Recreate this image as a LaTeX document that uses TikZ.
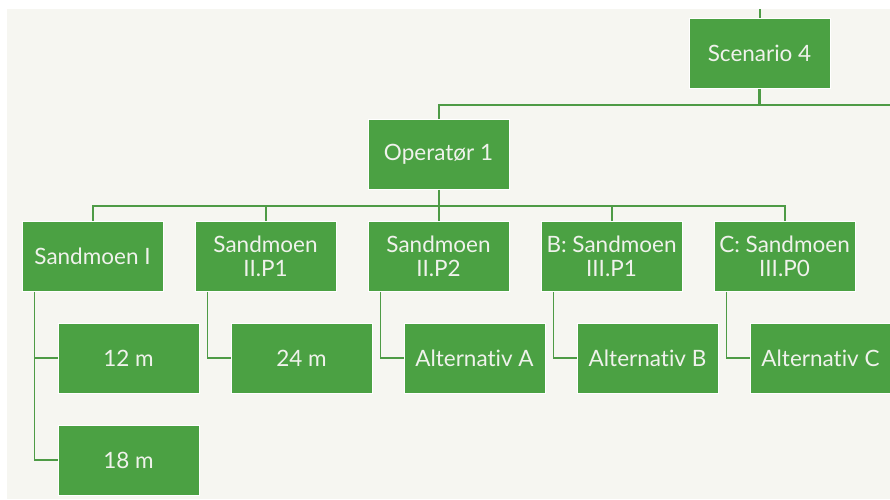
\documentclass[tikz,border=0pt]{standalone}
\usepackage{fontspec}
\setmainfont{Lato}[Ligatures={NoCommon}]
\usetikzlibrary{positioning}

\definecolor{boxgreen}{RGB}{75,161,67}
\definecolor{linegreen}{RGB}{78,155,70}
\definecolor{paper}{RGB}{246,246,241}
\definecolor{boxtext}{RGB}{240,242,236}

\begin{document}
\begin{tikzpicture}[x=1pt,y=-1pt,
  box/.style={fill=boxgreen,draw=white,line width=0.8pt,minimum width=141pt,minimum height=70pt,
    inner sep=2pt,align=center,text=boxtext,font=\fontsize{22.5}{24}\selectfont},
  link/.style={draw=linegreen,line width=2pt}]
% page and background
\fill[white] (0,0) rectangle (890,499);
\fill[paper] (7,9) rectangle (890,499);
\useasboundingbox (0,0) rectangle (890,499);

% top two levels
\node[box] (scen) at (759.5,53.5) {Scenario 4};
\node[box] (op) at (438.5,154.5) {Operatør 1};
\coordinate (top) at (759.5,9);
\coordinate (busA) at (759.5,104.5);
\coordinate (busAend) at (890,104.5);
\coordinate (busB) at (438.5,205.5);

% sites
\foreach \i/\x/\t in {1/92.5/{Sandmoen I},2/265.5/{Sandmoen\\II.P1},3/438.5/{Sandmoen\\II.P2},
    4/611.5/{B: Sandmoen\\III.P1},5/784.5/{C: Sandmoen\\III.P0}}
  \node[box] (s\i) at (\x,256.5) {\t};

% alternatives
\node[box] (t1) at (128.5,358) {12 m};
\node[box] (t2) at (128.5,460) {18 m};
\node[box] (t3) at (301.5,358) {24 m};
\node[box] (t4) at (474.5,358) {Alternativ A};
\node[box] (t5) at (647.5,358) {Alternativ B};
\node[box] (t6) at (820.5,358) {Alternativ C};

% connectors
\draw[link] (top) -- (scen.north);
\draw[link,line width=3pt] (scen.south) -- (busA);
\draw[link] (op.north) |- (busA) -- (busAend);
\draw[link] (op.south) -- (busB);
\foreach \i in {1,...,5} \draw[link] (s\i.north) |- (busB);
\draw[link,line width=1.6pt] ([xshift=13pt]s1.south west) |- (t1.west);
\draw[link,line width=1.6pt] ([xshift=13pt]s1.south west) |- (t2.west);
\draw[link,line width=1.6pt] ([xshift=13pt]s2.south west) |- (t3.west);
\draw[link,line width=1.6pt] ([xshift=13pt]s3.south west) |- (t4.west);
\draw[link,line width=1.6pt] ([xshift=13pt]s4.south west) |- (t5.west);
\draw[link,line width=1.6pt] ([xshift=13pt]s5.south west) |- (t6.west);
\end{tikzpicture}
\end{document}
